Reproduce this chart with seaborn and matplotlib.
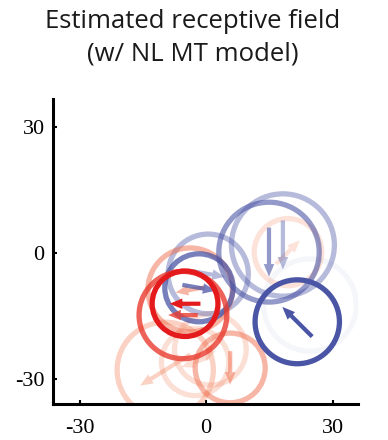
import numpy as np
import matplotlib
matplotlib.use("Agg")
import matplotlib.pyplot as plt
from matplotlib.patches import Circle
import seaborn as sns

# Receptive-field subunits: centre (deg), radius (deg), preferred direction (deg),
# arrow length (deg) and signed weight (+ excitatory / - suppressive)
cx = [21.6, 14.9, 18.2, 24.6, -1.7, 0.5, -5.0, -5.5, -3.8, -9.7, 5.7, -2.6, 19.4, 1.0]
cy = [-16.4, 0.2, 1.9, -12.4, -8.3, -5.0, -12.1, -14.8, -8.8, -27.9, -27.4, -26.0, 0.2, -23.0]
radius = [10.0, 11.9, 12.2, 11.0, 8.1, 9.5, 7.8, 10.4, 10.0, 11.4, 8.3, 8.0, 8.0, 8.5]
direction = [135, 270, 270, 0, -10, -10, 180, 180, 190, 212, 270, 200, 45, 250]
arrow_len = [10.0, 11.7, 11.7, 0.0, 8.0, 8.0, 7.3, 7.0, 7.0, 14.0, 8.0, 7.0, 8.0, 6.0]
weight = [-1.0, -0.6, -0.4, -0.05, -0.75, -0.4, 1.0, 0.8, 0.5, 0.35, 0.5, 0.25, 0.22, 0.25]

xticks = [-30, 0, 30]
yticks = [-30, 0, 30]

sns.set_style("ticks")

fig = plt.figure(figsize=(3.88, 4.40), dpi=100)
ax = fig.add_axes([0.1366, 0.0818, 0.7861, 0.6932])

blue = np.array([75, 85, 165]) / 255
red_strong = np.array([228, 26, 28]) / 255
red_pale = np.array([242, 125, 85]) / 255


def style(w):
    a = min(1.0, abs(w))
    if w < 0:
        return blue, a
    c = red_pale + (red_strong - red_pale) * max(0.0, (w - 0.4) / 0.6)
    return c, a


# draw weakest first so the strongest subunits sit on top
order = np.argsort(np.abs(weight))
for i in order:
    col, a = style(weight[i])
    ax.add_patch(Circle((cx[i], cy[i]), radius[i], fill=False, lw=3.8,
                        edgecolor=col, alpha=a, zorder=2 + abs(weight[i])))
    if arrow_len[i] > 0:
        th = np.deg2rad(direction[i])
        dx, dy = arrow_len[i] * np.cos(th), arrow_len[i] * np.sin(th)
        ax.arrow(cx[i] - dx / 2, cy[i] - dy / 2, dx, dy, width=1.0,
                 head_width=2.5, head_length=3.0, length_includes_head=True,
                 color=col, alpha=a, lw=0, zorder=2 + abs(weight[i]))

ax.set_xlim(-36.3, 36.0)
ax.set_ylim(-36.0, 36.7)
ax.set_xticks(xticks)
ax.set_yticks(yticks)
ax.set_xticklabels([str(t) for t in xticks])
ax.set_yticklabels([str(t) for t in yticks])
sns.despine(ax=ax)
for s in ("left", "bottom"):
    ax.spines[s].set_linewidth(2.2)
    ax.spines[s].set_color("black")
ax.tick_params(direction="in", length=3, width=1.5, colors="black")
ax.tick_params(axis="x", pad=11)
ax.tick_params(axis="y", pad=6)
for lab in ax.get_xticklabels() + ax.get_yticklabels():
    lab.set_fontfamily("Liberation Serif")
    lab.set_fontsize(16)

fig.text(0.496, 1 - 21 / 440, "Estimated receptive field", ha="center",
         va="center", fontsize=18.5, family="Open Sans", color="#1a1a1a")
fig.text(0.496, 1 - 54 / 440, "(w/ NL MT model)", ha="center",
         va="center", fontsize=18.5, family="Open Sans", color="#1a1a1a")

fig.savefig("out.png", dpi=100)
